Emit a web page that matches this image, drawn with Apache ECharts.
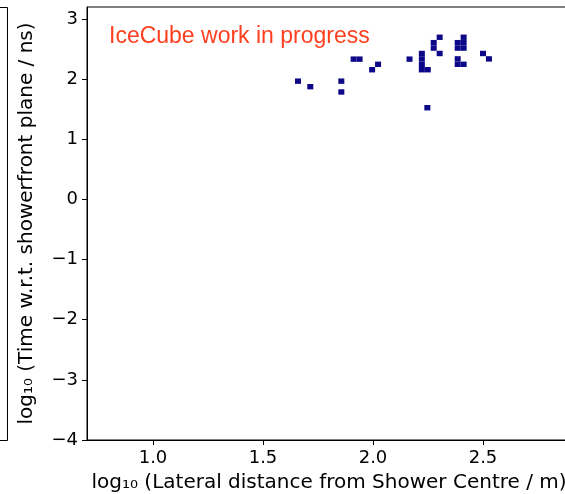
<!DOCTYPE html>
<html>
<head>
<meta charset="utf-8">
<script src="https://cdn.jsdelivr.net/npm/echarts@6/dist/echarts.min.js"></script>
<style>
  html, body { margin: 0; padding: 0; background: #fff; }
  #chart { width: 565px; height: 494px; }
</style>
</head>
<body>
<div id="chart"></div>
<script>
// 2D histogram cells: bin centres in log10(lateral distance / m) and log10(time / ns)
const binX = [
  1.659, 1.715, 1.856, 1.856,
  1.912, 1.939,
  1.996, 2.023,
  2.166,
  2.222, 2.222, 2.222, 2.222, 2.249,
  2.276, 2.276, 2.303, 2.303,
  2.385, 2.385, 2.412, 2.412, 2.412,
  2.385, 2.385, 2.412,
  2.500, 2.527,
  2.247
];
const binY = [
  1.967, 1.875, 1.967, 1.787,
  2.333, 2.333,
  2.157, 2.247,
  2.333,
  2.427, 2.337, 2.247, 2.157, 2.157,
  2.607, 2.517, 2.697, 2.427,
  2.607, 2.517, 2.607, 2.517, 2.697,
  2.337, 2.247, 2.247,
  2.427, 2.337,
  1.525
];
const binCount = binX.map(() => 1);

// histogram bin size in axis units
const BIN_W = 0.0273;
const BIN_H = 0.09;

const xTicks = [1.0, 1.5, 2.0, 2.5];
const yTicks = [-4, -3, -2, -1, 0, 1, 2, 3];

const cellColor = '#0d0887';
const fontFamily = '"DejaVu Sans", sans-serif';

const cells = binX.map((x, i) => [x, binY[i], binCount[i]]);

const chart = echarts.init(document.getElementById('chart'), null, { renderer: 'canvas' });

const tickText = { color: '#000', fontSize: 18, fontFamily: fontFamily };
const nameText = { color: '#000', fontSize: 20, fontFamily: fontFamily };

chart.setOption({
  animation: false,
  backgroundColor: '#fff',
  grid: {
    left: 87, top: 7, width: 484, bottom: 54,
    outerBoundsMode: 'none',
    containLabel: false,
    show: true, borderColor: '#000', borderWidth: 1, backgroundColor: 'transparent'
  },
  xAxis: {
    type: 'value',
    min: 0.7, max: 2.9,
    splitLine: { show: false },
    axisLine: { show: true, onZero: false, lineStyle: { color: '#000', width: 1 } },
    axisTick: { show: true, inside: false, length: 5, lineStyle: { color: '#000' }, customValues: xTicks },
    axisLabel: Object.assign({ margin: 9, customValues: xTicks, formatter: v => v.toFixed(1) }, tickText),
    name: 'log\u2081\u2080 (Lateral distance from Shower Centre / m)',
    nameLocation: 'middle',
    nameGap: 33,
    nameTextStyle: nameText
  },
  yAxis: {
    type: 'value',
    min: -4, max: 3.2,
    splitLine: { show: false },
    axisLine: { show: true, onZero: false, lineStyle: { color: '#000', width: 1 } },
    axisTick: { show: true, inside: false, length: 5, lineStyle: { color: '#000' }, customValues: yTicks },
    axisLabel: Object.assign({
      margin: 9,
      customValues: yTicks,
      formatter: v => (v < 0 ? '\u2212' + Math.abs(v) : String(v))
    }, tickText),
    name: 'log\u2081\u2080 (Time w.r.t. showerfront plane / ns)',
    nameLocation: 'middle',
    nameGap: 50,
    nameTextStyle: nameText
  },
  graphic: [
    {
      // edge of the neighbouring panel on the left
      type: 'polyline',
      silent: true,
      shape: { points: [[-10, 7.5], [7.5, 7.5], [7.5, 440.5], [-10, 440.5]] },
      style: { stroke: '#000', lineWidth: 1, fill: null }
    },
    {
      type: 'text',
      left: 109,
      top: 25,
      style: {
        text: 'IceCube work in progress',
        fill: '#ff4020',
        fontSize: 23,
        fontFamily: '"Liberation Sans", Arial, sans-serif'
      }
    }
  ],
  series: [
    {
      type: 'custom',
      data: cells,
      clip: true,
      renderItem: function (params, api) {
        const cx = api.value(0);
        const cy = api.value(1);
        const p0 = api.coord([cx - BIN_W / 2, cy + BIN_H / 2]);
        const p1 = api.coord([cx + BIN_W / 2, cy - BIN_H / 2]);
        return {
          type: 'rect',
          shape: { x: p0[0], y: p0[1], width: p1[0] - p0[0], height: p1[1] - p0[1] },
          style: { fill: cellColor, stroke: null }
        };
      }
    }
  ]
});
</script>
</body>
</html>
